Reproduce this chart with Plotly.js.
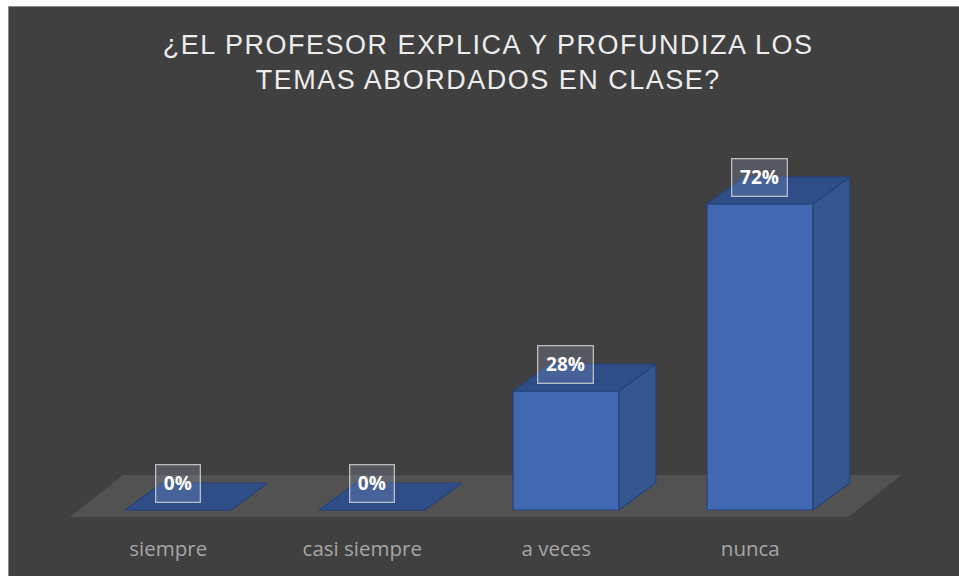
<!DOCTYPE html>
<html>
<head>
<meta charset="utf-8">
<script src="https://cdn.plot.ly/plotly-3.0.1.min.js"></script>
<style>
  html, body { margin: 0; padding: 0; background: #ffffff; overflow: hidden; width: 959px; height: 576px; }
  #frame { position: absolute; left: 8px; top: 6px; border-left: 1px solid #8a8a8a; border-top: 1px solid #8a8a8a; background: #404040; }
  #chart { width: 977px; height: 569px; }
  #chart .gtitle { letter-spacing: 1.5px; }
</style>
</head>
<body>
<div id="frame"><div id="chart"></div></div>
<script>
// ---- data ----
const categories = ["siempre", "casi siempre", "a veces", "nunca"];
const percentages = [0, 0, 28, 72];
const valueLabels = ["0%", "0%", "28%", "72%"];
const chartTitle = "¿EL PROFESOR EXPLICA Y PROFUNDIZA LOS<br>TEMAS ABORDADOS EN CLASE?";

// ---- style / geometry (in axis units) ----
const barWidth = 0.546;     // category units
const depthX = 0.19;        // category units
const depthY = 6.35;        // percent units
const labelShift = -0.05;   // category units (perspective offset of tick labels)
const frontColor = "#4169b1";
const sideColor = "#35568d";
const topColor = "#2f4d87";
const edgeColor = "#24427a";
const floorColor = "#525252";

const xs = categories.map((c, i) => i);
const traces = [];

// floor (drawn as a shape below the traces)
const n = categories.length;
const fl = -0.557, fr = n - 1 + 0.454, fFront = -1.65, fBack = 8.24, fdx = 0.275;
const floorPath = "M" + fl + "," + fFront + " L" + fr + "," + fFront +
  " L" + (fr + fdx) + "," + fBack + " L" + (fl + fdx) + "," + fBack + " Z";

// bars: side and top faces from values
xs.forEach((x, i) => {
  const v = percentages[i];
  const L = x - barWidth / 2, R = x + barWidth / 2;
  if (v > 0) {
    traces.push({
      type: "scatter", mode: "lines", fill: "toself", fillcolor: sideColor,
      line: { color: edgeColor, width: 1.2 }, hoverinfo: "skip", showlegend: false,
      x: [R, R + depthX, R + depthX, R, R],
      y: [0, depthY, v + depthY, v, 0]
    });
  }
  traces.push({
    type: "scatter", mode: "lines", fill: "toself", fillcolor: topColor,
    line: { color: edgeColor, width: 1.2 }, hoverinfo: "skip", showlegend: false,
    x: [L, R, R + depthX, L + depthX, L],
    y: [v, v, v + depthY, v + depthY, v]
  });
});

// front faces as real bars
traces.push({
  type: "bar", x: xs, y: percentages, width: barWidth,
  marker: { color: frontColor, line: { color: edgeColor, width: 1.2 } },
  hoverinfo: "skip", showlegend: false
});

const annotations = xs.map((x, i) => ({
  x: x, y: percentages[i] + depthY, xref: "x", yref: "y",
  text: "<b>" + valueLabels[i] + "</b>", showarrow: false,
  font: { family: "Open Sans, sans-serif", size: 19, color: "#ffffff" },
  width: valueLabels[i].length * 11.5 + 10, height: 26,
  bgcolor: "rgba(170,185,225,0.2)", bordercolor: "rgba(225,225,225,0.75)", borderwidth: 1.3,
  borderpad: 5, xanchor: "center", yanchor: "middle"
}));

const layout = {
  width: 977, height: 569,
  paper_bgcolor: "#404040", plot_bgcolor: "rgba(0,0,0,0)",
  margin: { l: 0, r: 0, t: 0, b: 42 },
  barmode: "overlay",
  title: {
    text: chartTitle, x: 0.4905, xanchor: "center", y: 0.918, yanchor: "top",
    font: { family: "Liberation Sans, Arial, sans-serif", size: 27, color: "#ececec" }
  },
  xaxis: {
    range: [-0.871, 4.165], tickvals: xs.map(x => x + labelShift), ticktext: categories,
    showgrid: false, zeroline: false, showline: false, ticks: "",
    tickfont: { family: "Open Sans, sans-serif", size: 20.5, color: "#a6a6a6" },
    fixedrange: true
  },
  yaxis: {
    range: [-5.65, 118.35], visible: false, showgrid: false, zeroline: false, fixedrange: true
  },
  shapes: [{
    type: "path", xref: "x", yref: "y", path: floorPath, layer: "below",
    fillcolor: floorColor, line: { width: 0 }
  }],
  annotations: annotations,
  showlegend: false
};

Plotly.newPlot("chart", traces, layout, { displayModeBar: false, staticPlot: true });
</script>
</body>
</html>
